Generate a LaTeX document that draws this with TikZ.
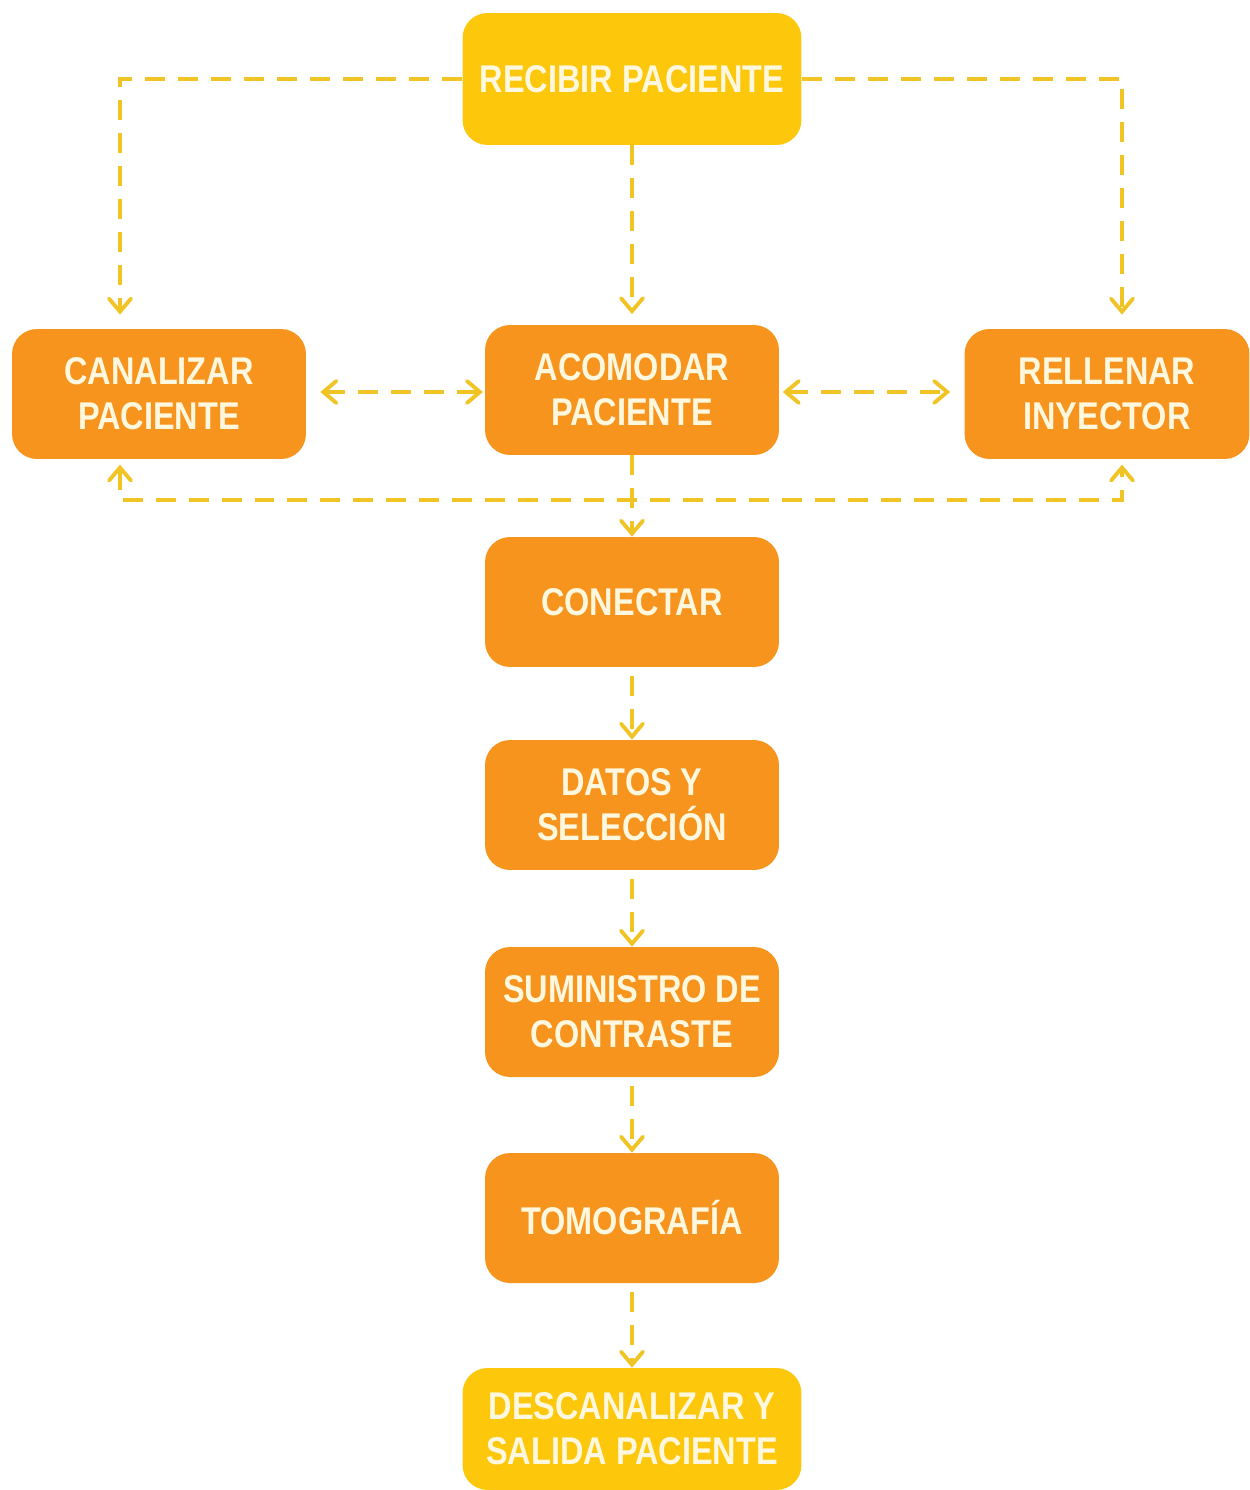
\documentclass[tikz,border=0pt]{standalone}
\usepackage{fontspec}
\setmainfont{Liberation Sans}[FakeStretch=0.84]
\usepackage{tikz}
\usetikzlibrary{arrows.meta}
\definecolor{procOrange}{RGB}{247,148,30}
\definecolor{termGold}{RGB}{253,200,12}
\definecolor{flowYellow}{RGB}{240,196,36}
\definecolor{txtCream}{RGB}{255,247,222}
\tikzset{
  box/.style={rounded corners=0.5cm, text=txtCream, align=center,
    font=\fontsize{22}{25.6}\selectfont\bfseries, inner sep=0pt},
  proc/.style={box, fill=procOrange, minimum width=5.88cm, minimum height=2.6cm},
  term/.style={box, fill=termGold, minimum width=6.78cm, minimum height=2.64cm},
  flow/.style={flowYellow, line width=2.2pt, dash pattern=on 0.4cm off 0.26cm,
    arrows={-Straight Barb[length=0.26cm, width=0.44cm, line cap=round]}},
  flow2/.style={flow, arrows={Straight Barb[length=0.26cm, width=0.44cm, line cap=round]-Straight Barb[length=0.26cm, width=0.44cm, line cap=round]}}
}
\begin{document}
\begin{tikzpicture}[x=0.02cm, y=-0.02cm]
  \useasboundingbox (0,0) rectangle (1250,1490);

  \node[term] (recibir) at (632,79) {RECIBIR PACIENTE};
  \node[proc, minimum width=5.88cm] (canalizar) at (159,394) {CANALIZAR\\PACIENTE};
  \node[proc] (acomodar) at (632,390) {ACOMODAR\\PACIENTE};
  \node[proc, minimum width=5.7cm] (rellenar) at (1107,394) {RELLENAR\\INYECTOR};
  \node[proc] (conectar) at (632,602) {CONECTAR};
  \node[proc] (datos) at (632,805) {DATOS Y\\SELECCIÓN};
  \node[proc] (suministro) at (632,1012) {SUMINISTRO DE\\CONTRASTE};
  \node[proc] (tomografia) at (632,1218) {TOMOGRAFÍA};
  \node[term, minimum height=2.44cm] (salida) at (632,1429) {DESCANALIZAR Y\\SALIDA PACIENTE};

  \coordinate (colL) at (120,0);
  \coordinate (colR) at (1122,0);
  \coordinate (row) at (0,392);
  \coordinate (bus) at (0,500);

  % from reception
  \draw[flow, shorten >=8pt] (recibir.west) -| (colL |- canalizar.north);
  \draw[flow, shorten >=8pt] (recibir.east) -| (colR |- rellenar.north);
  \draw[flow, shorten >=6pt] (recibir.south) -- (acomodar.north);

  % side steps
  \draw[flow2, shorten <=8pt, shorten >=1pt] (canalizar.east |- row) -- (acomodar.west |- row);
  \draw[flow2, shorten <=2pt, shorten >=8pt] (acomodar.east |- row) -- (rellenar.west |- row);
  \draw[flow2, shorten <=3pt, shorten >=3pt] (colL |- canalizar.south) -- (colL |- bus) -- (colR |- bus) -- (colR |- rellenar.south);

  % main chain
  \draw[flow] (acomodar.south) -- (conectar.north);
  \draw[flow, shorten <=5pt] (conectar.south) -- (datos.north);
  \draw[flow, shorten <=5pt] (datos.south) -- (suministro.north);
  \draw[flow, shorten <=5pt] (suministro.south) -- (tomografia.north);
  \draw[flow, shorten <=5pt] (tomografia.south) -- (salida.north);
\end{tikzpicture}
\end{document}
